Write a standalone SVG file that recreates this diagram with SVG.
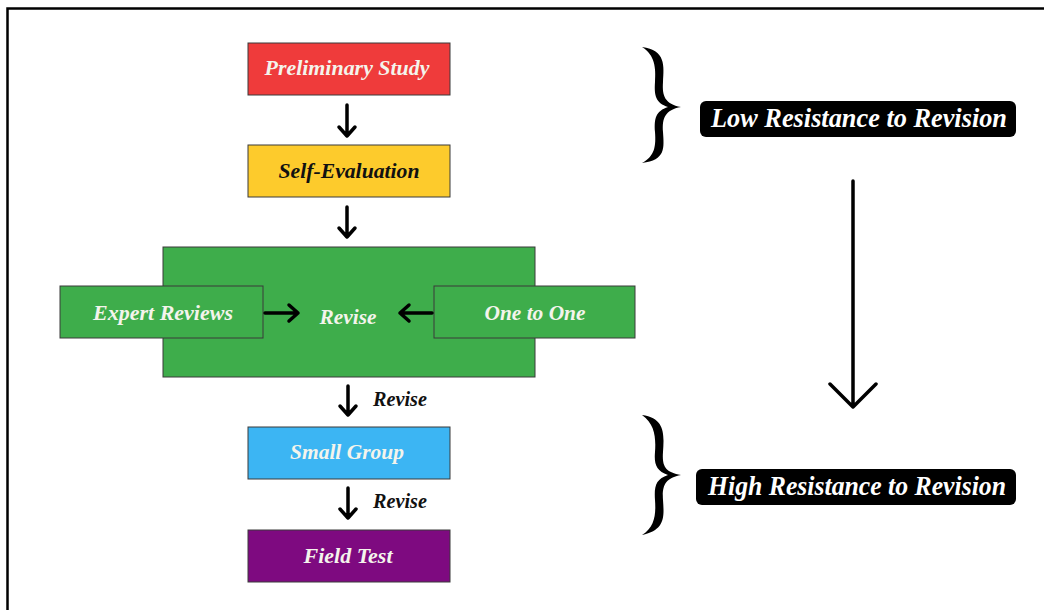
<svg xmlns="http://www.w3.org/2000/svg" width="1044" height="610" viewBox="0 0 1044 610">
<style>
.box{stroke:#3a3a3a;stroke-width:1}
.t{font-family:"Liberation Serif","Times New Roman",serif;font-weight:bold;font-style:italic;font-size:22px;text-anchor:middle;dominant-baseline:central}
.w{fill:#f4f4ec}
.k{fill:#111}
.ar{fill:none;stroke:#000;stroke-width:3.5;stroke-linecap:round;stroke-linejoin:round}
.big{fill:none;stroke:#000;stroke-width:3.5;stroke-linecap:round;stroke-linejoin:round}
.lab{fill:#000}
.lt{font-size:27px;fill:#fff}
.rv{font-size:20px}
</style>
<rect width="1044" height="610" fill="#fff"/>
<path d="M7.5,610 V8.5 H1044" fill="none" stroke="#000" stroke-width="2.5"/>

<g id="preliminary">
<rect class="box" x="248" y="43" width="202" height="52" fill="#ef3b3b"/>
<text class="t w" x="347" y="67" textLength="165" lengthAdjust="spacingAndGlyphs">Preliminary Study</text>
</g>
<g id="self-evaluation">
<rect class="box" x="248" y="145" width="202" height="52" fill="#fdcb2c"/>
<text class="t k" x="349" y="170" textLength="141" lengthAdjust="spacingAndGlyphs">Self-Evaluation</text>
</g>
<g id="revise-area">
<rect class="box" x="163" y="247" width="372" height="130" fill="#3ead4b"/>
<text class="t w" x="348" y="316" textLength="57" lengthAdjust="spacingAndGlyphs">Revise</text>
</g>
<g id="expert-reviews">
<rect class="box" x="60" y="286" width="203" height="52" fill="#3ead4b"/>
<text class="t w" x="163" y="312" textLength="140" lengthAdjust="spacingAndGlyphs">Expert Reviews</text>
</g>
<g id="one-to-one">
<rect class="box" x="434" y="286" width="201" height="52" fill="#3ead4b"/>
<text class="t w" x="535" y="312" textLength="101" lengthAdjust="spacingAndGlyphs">One to One</text>
</g>
<g id="small-group">
<rect class="box" x="248" y="427" width="202" height="52" fill="#3cb5f3"/>
<text class="t w" x="347" y="451" textLength="114" lengthAdjust="spacingAndGlyphs">Small Group</text>
</g>
<g id="field-test">
<rect class="box" x="248" y="530" width="202" height="52" fill="#7e0a80"/>
<text class="t w" x="348" y="555" textLength="89" lengthAdjust="spacingAndGlyphs">Field Test</text>
</g>

<g id="low-label">
<path class="lab" d="M642,47 C666,50 664,66 663,82 C662,96 665,104 681,107 C665,110 662,118 663,132 C664,148 666,160 642,163 C655,156 656,146 655,132 C654,118 656,111 668,107 C656,103 654,96 655,82 C656,68 655,55 642,47 Z"/>
<rect x="700" y="101" width="316" height="36" rx="6" fill="#000"/>
<text class="t lt" x="859" y="118" textLength="296" lengthAdjust="spacingAndGlyphs">Low Resistance to Revision</text>
</g>
<g id="high-label">
<path class="lab" d="M642,415 C666,418 664,436 663,452 C662,466 665,472 681,475 C665,478 662,486 663,500 C664,516 666,530 642,535 C655,527 656,514 655,500 C654,486 656,479 668,475 C656,471 654,464 655,452 C656,438 655,424 642,415 Z"/>
<rect x="696" y="469" width="320" height="36" rx="6" fill="#000"/>
<text class="t lt" x="857" y="486" textLength="298" lengthAdjust="spacingAndGlyphs">High Resistance to Revision</text>
</g>

<g id="connectors">
<path class="ar" d="M347,105 V136 M339,127 L347,136 L355,127"/>
<path class="ar" d="M347,207 V237 M339,228 L347,237 L355,228"/>
<path class="ar" d="M265,313 H298 M289,305 L298,313 L289,321"/>
<path class="ar" d="M432,313 H400 M409,305 L400,313 L409,321"/>
<path class="ar" d="M348,386 V415 M340,406 L348,415 L356,406"/>
<path class="ar" d="M348,488 V518 M340,509 L348,518 L356,509"/>
<path class="big" d="M853,181 V407 M830,384 L853,407 L876,384"/>
<text class="t k rv" x="400" y="399" textLength="54" lengthAdjust="spacingAndGlyphs">Revise</text>
<text class="t k rv" x="400" y="501" textLength="54" lengthAdjust="spacingAndGlyphs">Revise</text>
</g>
</svg>
